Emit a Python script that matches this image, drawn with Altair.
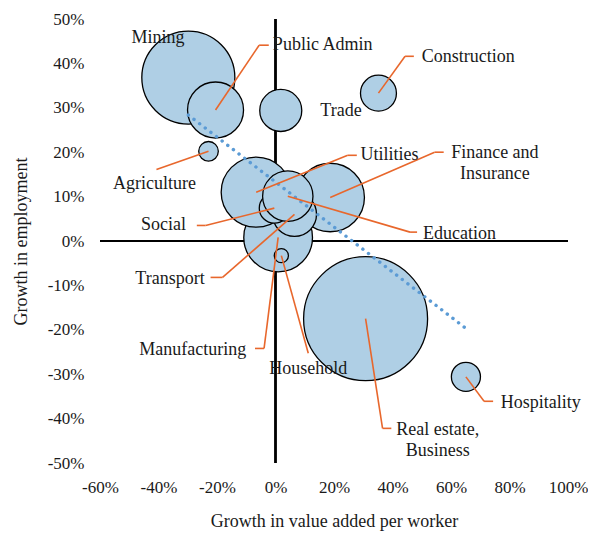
import altair as alt
import pandas as pd

# ---- data ----
sectors = ["Real estate, Business", "Mining", "Manufacturing", "Finance and Insurance",
           "Utilities", "Transport", "Social", "Education", "Public Admin", "Trade",
           "Construction", "Agriculture", "Hospitality", "Household"]
va_growth = [30.8, -29.8, 0.9, 18.7, -6.6, 6.5, -0.4, 4.2, -20.5, 1.8, 35.2, -22.9, 65.1, 2.0]
emp_growth = [-17.5, 36.8, 0.8, 9.8, 11.0, 6.0, 7.4, 10.1, 29.5, 29.4, 33.3, 20.2, -30.6, -3.3]
bubble_size = [100, 56.3, 30.7, 30.5, 31.9, 12.6, 5.9, 16.5, 20.4, 11.5, 8.4, 2.5, 5.5, 1.3]

# label text and annotation anchors (data units)
label_text = ["Real estate,\nBusiness", "Mining", "Manufacturing", "Finance and\nInsurance",
              "Utilities", "Transport", "Social", "Education", "Public Admin", "Trade",
              "Construction", "Agriculture", "Hospitality", "Household"]
label_x = [55.5, -40.2, -10.0, 75.0, 29.1, -24.2, -30.6, 50.4, -0.9, 22.4, 50.0, -41.4, 77.0, 11.2]
label_y = [-42.6, 45.7, -24.6, 19.9, 19.3, -8.6, 3.5, 1.5, 44.1, 29.2, 41.4, 12.8, -36.5, -28.9]
# leader line: bubble -> elbow -> end
elbow_x = [36.6, None, -3.9, 54.4, 24.7, -18.1, -23.9, 46.0, -5.6, None, 44.3, -40.7, 71.3, 11.2]
elbow_y = [-42.2, None, -24.2, 20.0, 19.3, -8.2, 3.5, 2.0, 44.1, None, 41.6, 16.1, -36.1, -25.3]
end_x = [39.6, None, -7.0, 57.5, 27.8, -22.2, -26.9, 48.4, -2.3, None, 47.3, -40.7, 74.4, 11.2]
end_y = [-42.2, None, -24.2, 20.0, 19.3, -8.2, 3.5, 2.0, 44.1, None, 41.6, 16.1, -36.1, -25.3]

left_aligned = ["Utilities", "Education", "Public Admin", "Construction", "Hospitality"]
right_aligned = ["Manufacturing", "Transport", "Social"]

x_ticks = [-60, -40, -20, 0, 20, 40, 60, 80, 100]
y_ticks = [-50, -40, -30, -20, -10, 0, 10, 20, 30, 40, 50]

df = pd.DataFrame({
    "sector": sectors, "x": va_growth, "y": emp_growth, "w": bubble_size,
    "label": label_text, "lx": label_x, "ly": label_y,
    "ex": elbow_x, "ey": elbow_y, "tx": end_x, "ty": end_y,
})
df["order"] = range(len(df))
df["align"] = ["left" if s in left_aligned else ("right" if s in right_aligned else "center")
               for s in sectors]

FONT = "Liberation Serif"
FS = 18
ORANGE = "#E8672C"

xscale = alt.Scale(domain=[-60, 100], nice=False, zero=False)
yscale = alt.Scale(domain=[-50, 50], nice=False, zero=False)

xaxis = alt.Axis(values=x_ticks, labelExpr="datum.value + '%'", grid=False, ticks=False,
                 domain=False, labelPadding=16, titlePadding=17, labelFlush=False,
                 title="Growth in value added per worker")
yaxis = alt.Axis(values=y_ticks, labelExpr="datum.value + '%'", grid=False, ticks=False,
                 domain=False, labelPadding=16, titlePadding=17, labelFlush=False,
                 title="Growth in employment")


def X(f):
    return alt.X(f, scale=xscale, axis=xaxis)


def Y(f):
    return alt.Y(f, scale=yscale, axis=yaxis)


base = alt.Chart(df)

zero_v = base.mark_rule(color="black", strokeWidth=1.3).encode(
    x=alt.datum(0, scale=xscale, axis=xaxis, type="quantitative"))
zero_h = base.mark_rule(color="black", strokeWidth=1.3).encode(
    y=alt.datum(0, scale=yscale, axis=yaxis, type="quantitative"))

bubbles = base.mark_circle(opacity=1, fill="#AFCFE5", stroke="black", strokeWidth=1.3).encode(
    x=X("x:Q"), y=Y("y:Q"),
    size=alt.Size("w:Q", scale=alt.Scale(domain=[0, 100], range=[0, 124 * 124]), legend=None),
    order=alt.Order("order:Q"),
)

trend = base.transform_regression("x", "y").mark_line(
    color="#5B9BD5", strokeWidth=3.4, strokeDash=[0.1, 7.0], strokeCap="round").encode(
    x=X("x:Q"), y=Y("y:Q"))

lead1 = base.transform_filter("datum.ex != null").mark_rule(color=ORANGE, strokeWidth=1.6).encode(
    x=X("x:Q"), y=Y("y:Q"), x2="ex:Q", y2="ey:Q")
lead2 = base.transform_filter("datum.ex != null").mark_rule(color=ORANGE, strokeWidth=1.6).encode(
    x=X("ex:Q"), y=Y("ey:Q"), x2="tx:Q", y2="ty:Q")


def text_layer(al):
    return base.transform_filter(f"datum.align == '{al}'").mark_text(
        align=al, baseline="middle", font=FONT, fontSize=FS, color="#1a1a1a",
        lineBreak="\n", lineHeight=21).encode(
        x=X("lx:Q"), y=Y("ly:Q"), text="label:N")


chart = alt.layer(zero_v, zero_h, bubbles, trend, lead1, lead2,
                  text_layer("left"), text_layer("center"), text_layer("right")).properties(
    width=468, height=444,
    autosize=alt.AutoSizeParams(type="none"),
    padding={"left": 92, "top": 11, "right": 20, "bottom": 70},
).configure_axis(
    labelFont=FONT, labelFontSize=17, labelColor="#1a1a1a",
    titleFont=FONT, titleFontSize=FS, titleFontWeight="normal", titleColor="#1a1a1a",
).configure_view(stroke=None)

chart.save("out.html", embed_options={"renderer": "svg", "actions": False})
